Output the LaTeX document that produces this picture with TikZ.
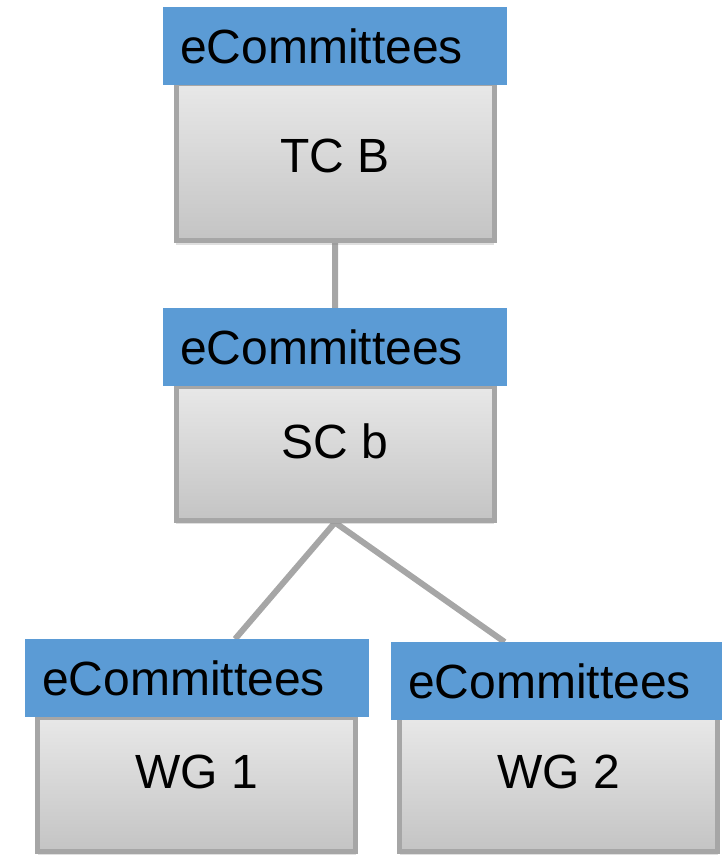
\documentclass[tikz,border=0pt]{standalone}
\usepackage{fontspec}
\setmainfont{Liberation Sans}
\usetikzlibrary{calc,backgrounds,shadows}
\definecolor{hdrblue}{HTML}{5B9BD5}
\definecolor{edgegrey}{HTML}{A6A6A6}
\definecolor{gtop}{HTML}{E8E8E8}
\definecolor{gbot}{HTML}{C4C4C4}
\tikzset{
  gbox/.style={rectangle, draw=edgegrey, line width=5pt, top color=gtop, bottom color=gbot,
    minimum width=318pt, inner sep=0pt, font=\fontsize{48}{52}\selectfont,
    drop shadow={opacity=0.25, shadow xshift=0pt, shadow yshift=-4pt}},
  hbox/.style={rectangle, fill=hdrblue, minimum width=344pt, minimum height=78pt,
    text width=310pt, inner xsep=17pt, inner ysep=0pt, align=left, anchor=north west,
    font=\fontsize{48}{52}\selectfont},
  conn/.style={draw=edgegrey, line width=6pt}
}
\begin{document}
\begin{tikzpicture}[x=1pt,y=-1pt]
\useasboundingbox (0,0) rectangle (722,855);
\clip (0,0) rectangle (722,855);
% top
\node[gbox, minimum height=157pt] (tcb) at (335,162) {\raisebox{12pt}{TC B}};
\node[hbox] (tcbh) at (163,7) {eCommittees};
% middle
\node[gbox, minimum height=134pt] (scb) at (335,453) {\raisebox{24pt}{SC b}};
\node[hbox] (scbh) at (163,308) {eCommittees};
% bottom left
\node[gbox, minimum height=134pt] (wg1) at (196.5,784) {\raisebox{24pt}{WG 1}};
\node[hbox] (wg1h) at (25,639) {eCommittees};
% bottom right
\node[gbox, minimum height=134pt] (wg2) at (558.5,784) {\raisebox{24pt}{WG 2}};
\node[hbox] (wg2h) at (391,642) {eCommittees};
\begin{scope}[on background layer]
\draw[conn] (tcb.south) -- (scbh.north);
\draw[conn] (scb.south) -- ($(wg1h.north west)!0.61!(wg1h.north east)$);
\draw[conn] (scb.south) -- ($(wg2h.north west)!0.33!(wg2h.north east)$);
\end{scope}
\end{tikzpicture}
\end{document}
